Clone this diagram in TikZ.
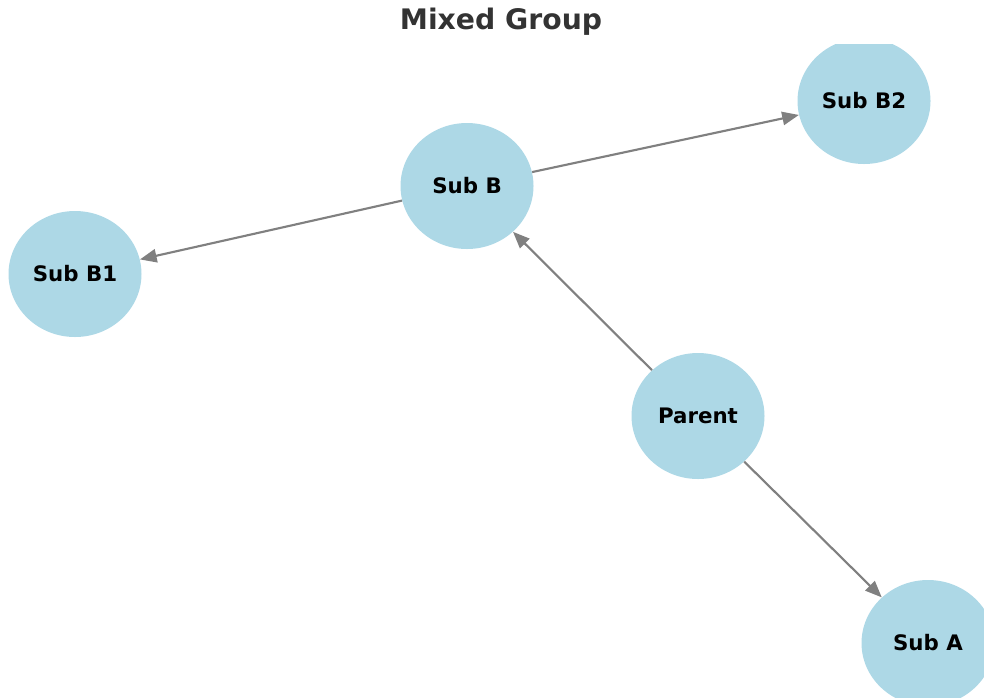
\documentclass[tikz,border=0pt]{standalone}
\usepackage{fontspec}
\setmainfont{DejaVu Sans}
\usetikzlibrary{shapes.geometric,arrows.meta}
\definecolor{nodefill}{HTML}{ADD8E6}
\definecolor{edgegray}{HTML}{808080}
\definecolor{titlegray}{HTML}{333333}
\tikzset{
  graphnode/.style={ellipse, fill=nodefill, draw=none, inner sep=0pt,
    minimum width=99.75pt, minimum height=94.5pt,
    font=\fontsize{16}{18}\selectfont\bfseries, text=black},
  link/.style={draw=edgegray, line width=1.6pt,
    -{Triangle[length=12.5pt, width=10pt]}},
}
\begin{document}
\begin{tikzpicture}[x=0.75pt, y=-0.75pt]
  \useasboundingbox (0,0) rectangle (984,697);
  % title above the plotting area
  \node[font=\fontsize{21.2}{24}\selectfont\bfseries, text=titlegray]
    (title) at (501,22) {Mixed Group};
  \begin{scope}
    \clip (0,44) rectangle (984,697);
    \node[graphnode] (parent) at (698,416) {Parent};
    \node[graphnode] (subb)   at (467,186) {Sub B};
    \node[graphnode] (subb1)  at (75,274)  {Sub B1};
    \node[graphnode] (subb2)  at (864,101) {Sub B2};
    \node[graphnode] (suba)   at (928,643) {Sub A};
    \draw[link] (parent) -- (subb);
    \draw[link] (parent) -- (suba);
    \draw[link] (subb) -- (subb1);
    \draw[link] (subb) -- (subb2);
  \end{scope}
\end{tikzpicture}
\end{document}
